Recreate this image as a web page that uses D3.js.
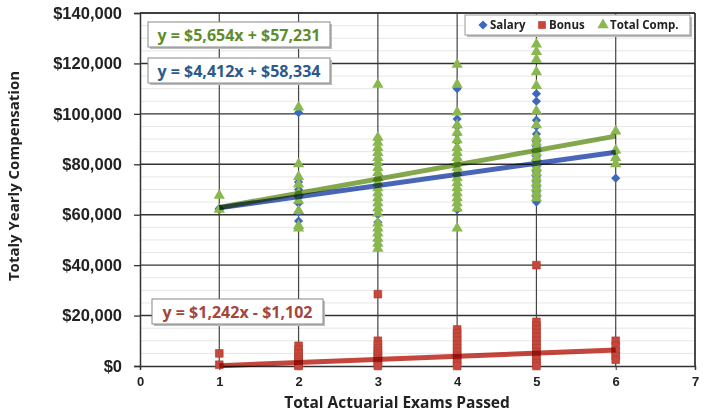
<!DOCTYPE html>
<html>
<head>
<meta charset="utf-8">
<script src="https://cdn.jsdelivr.net/npm/d3@7"></script>
<style>
  body { margin: 0; background: #fff; }
  svg { display: block; font-family: "Open Sans", sans-serif; font-weight: bold; }
  .trend { mix-blend-mode: multiply; }
</style>
</head>
<body>
<div id="chart"></div>
<script>
// Dados (um array por número de exames)
const examsPassed = [1, 2, 3, 4, 5, 6];

const salaryValues = [
  [62500, 62000],
  [100500, 73000, 70000, 67000, 64500, 61000, 57500],
  [90000, 86000, 84000, 82000, 80000, 78000, 76000, 74000, 72000, 70000, 68000, 66000, 64000, 62000, 60000, 57000, 54000, 52000, 50000, 48000],
  [110000, 98000, 95000, 92000, 89000, 86000, 84000, 82000, 80000, 78000, 76000, 74000, 72000, 70000, 68000, 66000, 64000, 62000],
  [108000, 105000, 97500, 95000, 92000, 89000, 87000, 85000, 83000, 81000, 79000, 77000, 75000, 73000, 71000, 69000, 67000, 65000],
  [85000, 82000, 74500]
];

const bonusValues = [
  [5000, 500],
  [8000, 6500, 5000, 3500, 2500, 1500, 500, 0],
  [28500, 10000, 8500, 7000, 6000, 5000, 4000, 3000, 2000, 1000, 0],
  [14500, 13000, 11500, 10000, 8500, 7000, 5500, 4000, 2500, 1000, 0],
  [40000, 17500, 16000, 14500, 13000, 11500, 10000, 8500, 7000, 5500, 4000, 2500, 1000, 0],
  [10000, 8000, 6000, 4000, 2500]
];

const totalValues = [
  [68000, 62500],
  [103000, 80500, 75500, 72500, 69000, 66000, 62000, 56000, 55000],
  [112000, 91000, 89000, 87000, 85000, 83000, 81000, 79000, 77000, 75000, 73000, 71000, 69000, 67000, 65000, 63000, 61000, 57000, 55000, 53000, 51000, 49000, 47000],
  [120000, 112000, 101000, 96000, 93000, 90000, 87000, 85000, 83000, 81000, 79000, 77000, 75000, 73000, 71000, 69000, 67000, 65000, 63000, 55000],
  [128000, 125000, 122000, 117000, 111500, 101500, 96000, 91000, 89000, 87000, 85000, 83000, 81000, 79000, 77000, 75000, 73000, 71000, 69000, 67000],
  [93500, 86000, 83000, 80500]
];

// Linhas de tendência: [declive, ordenada na origem]
const salaryTrend = [4412, 58334];
const bonusTrend = [1242, -1102];
const totalTrend = [5654, 57231];

const seriesNames = ['Salary', 'Bonus', 'Total Comp.'];
const trendLabels = ['y = $4,412x + $58,334', 'y = $1,242x - $1,102', 'y = $5,654x + $57,231'];

const xTicks = [0, 1, 2, 3, 4, 5, 6, 7];
const yTicks = [0, 20000, 40000, 60000, 80000, 100000, 120000, 140000];

// Configuração
const width = 713, height = 412;
const colors = { salary: '#3d68bd', bonus: '#c8473b', total: '#8ab84e' };

const svg = d3.select('#chart').append('svg')
  .attr('width', width)
  .attr('height', height);

const x = d3.scaleLinear().domain([0, 7]).range([140, 695]);
const y = d3.scaleLinear().domain([0, 140000]).range([366, 13]);

// Grelha secundária (muito clara)
svg.append('g')
  .selectAll('line')
  .data(d3.range(5000, 140000, 5000).filter(v => v % 20000 !== 0))
  .join('line')
  .attr('x1', x(0)).attr('x2', x(7))
  .attr('y1', d => y(d)).attr('y2', d => y(d))
  .attr('stroke', '#e6e6e6')
  .attr('stroke-width', 1);

// Grelha principal
svg.append('g')
  .selectAll('line')
  .data(yTicks.slice(1))
  .join('line')
  .attr('x1', x(0)).attr('x2', x(7))
  .attr('y1', d => y(d)).attr('y2', d => y(d))
  .attr('stroke', '#333')
  .attr('stroke-width', 1.4);

svg.append('g')
  .selectAll('line')
  .data(xTicks.slice(1))
  .join('line')
  .attr('x1', d => x(d)).attr('x2', d => x(d))
  .attr('y1', y(0)).attr('y2', y(140000))
  .attr('stroke', '#444')
  .attr('stroke-width', 1.2);

// Eixos
const yAxis = d3.axisLeft(y)
  .tickValues(yTicks)
  .tickSize(6)
  .tickPadding(12)
  .tickFormat(d => '$' + d3.format(',')(d));

const yAxisGroup = svg.append('g')
  .attr('transform', `translate(${x(0)},0)`)
  .call(yAxis);
yAxisGroup.select('.domain').attr('stroke', '#333').attr('stroke-width', 1.5);
yAxisGroup.selectAll('.tick line').attr('stroke', '#333').attr('stroke-width', 1.3);
yAxisGroup.selectAll('.tick text')
  .attr('fill', '#222')
  .style('font-size', '16.5px')
  .style('font-weight', 'bold');

const xAxis = d3.axisBottom(x)
  .tickValues(xTicks)
  .tickSize(4)
  .tickPadding(7)
  .tickFormat(d3.format('d'));

const xAxisGroup = svg.append('g')
  .attr('transform', `translate(0,${y(0)})`)
  .call(xAxis);
xAxisGroup.select('.domain').attr('stroke', '#333').attr('stroke-width', 1.5);
xAxisGroup.selectAll('.tick line').attr('stroke', '#333');
xAxisGroup.selectAll('.tick text')
  .attr('fill', '#222')
  .style('font-size', '13px')
  .style('font-weight', 'bold');

// Moldura superior e direita
svg.append('line')
  .attr('x1', x(0)).attr('x2', x(7))
  .attr('y1', y(140000)).attr('y2', y(140000))
  .attr('stroke', '#333').attr('stroke-width', 1.5);
svg.append('line')
  .attr('x1', x(7)).attr('x2', x(7))
  .attr('y1', y(0)).attr('y2', y(140000))
  .attr('stroke', '#333').attr('stroke-width', 1.5);

// Títulos dos eixos
svg.append('text')
  .attr('x', 397)
  .attr('y', 408)
  .attr('text-anchor', 'middle')
  .attr('fill', '#222')
  .style('font-size', '15.5px')
  .text('Total Actuarial Exams Passed');

svg.append('text')
  .attr('transform', 'translate(19,176) rotate(-90)')
  .attr('text-anchor', 'middle')
  .attr('fill', '#222')
  .style('font-size', '15px')
  .text('Totaly Yearly Compensation');

// Pontos
function flatten(values) {
  const pts = [];
  values.forEach((vals, i) => vals.forEach(v => pts.push({ exams: examsPassed[i], value: v })));
  return pts;
}

const diamond = d3.symbol().type(d3.symbolSquare).size(42);
const square = d3.symbol().type(d3.symbolSquare).size(60);
const triangle = d3.symbol().type(d3.symbolTriangle).size(55);

svg.append('g')
  .selectAll('path')
  .data(flatten(salaryValues))
  .join('path')
  .attr('d', diamond)
  .attr('transform', d => `translate(${x(d.exams)},${y(d.value)}) rotate(45)`)
  .attr('fill', colors.salary);

svg.append('g')
  .selectAll('path')
  .data(flatten(bonusValues))
  .join('path')
  .attr('d', square)
  .attr('transform', d => `translate(${x(d.exams)},${y(d.value)})`)
  .attr('fill', colors.bonus)
  .attr('stroke', '#a83a30')
  .attr('stroke-width', 0.6);

svg.append('g')
  .selectAll('path')
  .data(flatten(totalValues))
  .join('path')
  .attr('d', triangle)
  .attr('transform', d => `translate(${x(d.exams)},${y(d.value) + 1})`)
  .attr('fill', colors.total);

// Linhas de tendência
const trends = [
  { coef: salaryTrend, color: '#4a66b8' },
  { coef: bonusTrend, color: '#c4463c' },
  { coef: totalTrend, color: '#85a84e' }
];

const line = d3.line()
  .x(d => x(d.x))
  .y(d => y(d.y));

trends.forEach(t => {
  const pts = [1, 6].map(e => ({ x: e, y: t.coef[0] * e + t.coef[1] }));
  svg.append('path')
    .attr('class', 'trend')
    .attr('d', line(pts))
    .attr('fill', 'none')
    .attr('stroke', t.color)
    .attr('stroke-width', 5);
});

// Caixas das equações
const labelBoxes = [
  { text: trendLabels[2], x: 148, y: 22, w: 182, h: 25, color: '#5f8d2e' },
  { text: trendLabels[0], x: 148, y: 58, w: 182, h: 25, color: '#2c5a8c' },
  { text: trendLabels[1], x: 152, y: 299, w: 171, h: 25, color: '#a3463d' }
];

labelBoxes.forEach(b => {
  const g = svg.append('g').attr('transform', `translate(${b.x},${b.y})`);
  g.append('rect')
    .attr('x', 2).attr('y', 2)
    .attr('width', b.w).attr('height', b.h)
    .attr('fill', '#bbb');
  g.append('rect')
    .attr('width', b.w).attr('height', b.h)
    .attr('fill', '#fff')
    .attr('stroke', '#888')
    .attr('stroke-width', 1);
  g.append('text')
    .attr('x', b.w / 2)
    .attr('y', b.h / 2 + 6)
    .attr('text-anchor', 'middle')
    .attr('fill', b.color)
    .style('font-size', '16px')
    .text(b.text);
});

// Legenda
const legend = svg.append('g').attr('transform', 'translate(465,15)');
legend.append('rect')
  .attr('x', 2).attr('y', 2).attr('width', 225).attr('height', 20)
  .attr('fill', '#bbb');
legend.append('rect')
  .attr('width', 225).attr('height', 20)
  .attr('fill', '#fff')
  .attr('stroke', '#999');

const legendItems = [
  { name: seriesNames[0], sym: diamond, rot: 45, color: colors.salary, x: 18 },
  { name: seriesNames[1], sym: square, rot: 0, color: colors.bonus, x: 77 },
  { name: seriesNames[2], sym: triangle, rot: 0, color: colors.total, x: 138 }
];

legendItems.forEach(it => {
  legend.append('path')
    .attr('d', it.sym)
    .attr('transform', `translate(${it.x},10) rotate(${it.rot})`)
    .attr('fill', it.color);
  legend.append('text')
    .attr('x', it.x + 7)
    .attr('y', 14)
    .attr('fill', '#222')
    .style('font-size', '11.5px')
    .text(it.name);
});
</script>
</body>
</html>
